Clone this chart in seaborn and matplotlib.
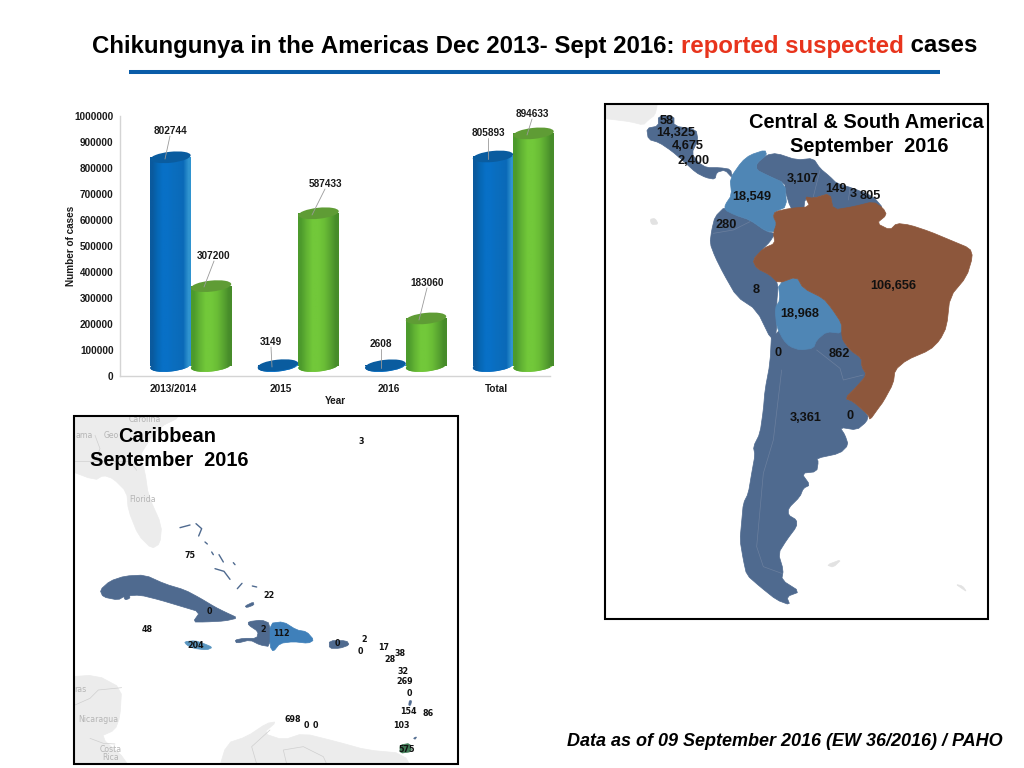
import numpy as np
import pandas as pd
import matplotlib
matplotlib.use("Agg")
import matplotlib.pyplot as plt
import seaborn as sns
from matplotlib.colors import to_rgb
from matplotlib.patches import Ellipse, Rectangle
from matplotlib.transforms import Affine2D

# Data

years = ["2013/2014", "2015", "2016", "Total"]
confirmed = [802744, 3149, 2608, 805893]
suspected = [307200, 587433, 183060, 894633]
y_ticks = [0, 100000, 200000, 300000, 400000, 500000, 600000, 700000, 800000, 900000, 1000000]

sa_names = ["58", "14,325", "4,675", "2,400", "3,107", "149", "3", "805", "18,549",
            "280", "8", "106,656", "18,968", "0", "862", "3,361", "0"]
sa_label_xy = [(667, 121), (676, 133), (688, 146), (694, 161), (803, 179), (836, 189),
               (853, 194), (870, 196), (752, 197), (726, 225), (756, 290), (893, 286),
               (800, 314), (778, 353), (839, 354), (806, 418), (850, 416)]

car_names = ["3", "75", "22", "0", "48", "2", "112", "204", "0", "2", "0", "17", "38", "28",
             "32", "269", "0", "154", "86", "698", "0", "0", "103", "575"]
car_label_xy = [(361, 442), (190, 555), (269, 595), (209, 612), (147, 629), (263, 630),
                (281, 633), (196, 645), (337, 644), (364, 640), (360, 651), (384, 647),
                (400, 653), (390, 659), (403, 671), (405, 682), (409, 693), (408, 712),
                (428, 713), (293, 720), (306, 725), (315, 725), (401, 726), (407, 749)]

# pixel place of each value label, and where its leader line ends on the bar
bar_label_xy = [(170, 131), (271, 342), (381, 344), (488, 133),
                (214, 256), (325, 184), (427, 283), (532, 114)]
bar_tip_xy = [(165, 159), (272, 367), (381, 368), (488, 159),
              (204, 287), (312, 215), (419, 320), (527, 135)]

BLUE = "#0a6cbc"
GREEN = "#6cc038"
DARK = "#4f6a8f"
LIGHT = "#4f86b5"
BRAZIL = "#8d573c"
GRAY = "#ececec"

# Map outlines, traced in 3x crops of the page


def crop(pts, x0, y0):
    return [(x0 + a / 3, y0 + b / 3) for a, b in pts]


mexico = crop([(-30, -30), (172, -30), (172, 15), (165, 45), (145, 60), (130, 75), (90, 65), (50, 60), (-30, 50)], 600, 100)
central = crop([(140, 85), (175, 78), (175, 48), (222, 48), (222, 78), (288, 88), (294, 120), (275, 160),
                (295, 188), (320, 203), (360, 203), (392, 208), (397, 234), (375, 210), (350, 217),
                (345, 238), (318, 233), (288, 218), (250, 183), (215, 153), (178, 128), (145, 118)], 600, 100)
venezuela = crop([(470, 190), (500, 165), (530, 160), (590, 180), (640, 175), (660, 205), (690, 230),
                  (710, 250), (760, 265), (820, 290), (850, 325), (820, 320), (700, 335), (690, 280),
                  (640, 295), (615, 295), (610, 340), (590, 345), (570, 320), (555, 270), (555, 250),
                  (500, 225), (470, 210)], 600, 100)
colombia = crop([(390, 235), (425, 185), (450, 165), (495, 150), (500, 165), (470, 190), (470, 210),
                 (500, 225), (555, 250), (560, 320), (525, 335), (520, 350), (530, 370), (525, 395),
                 (500, 395), (450, 360), (405, 345), (375, 330), (375, 315), (395, 285)], 600, 100)
peru = crop([(375, 320), (405, 345), (450, 360), (500, 395), (525, 400), (510, 425), (490, 445),
             (458, 480), (470, 505), (510, 525), (535, 550), (530, 610), (530, 700), (515, 722),
             (470, 630), (410, 590), (370, 520), (345, 470), (330, 430), (335, 390), (345, 350)], 600, 100)
cone = crop([(515, -25), (650, -60), (728, -30), (728, 0), (750, 30), (785, 55), (785, 80), (800, 105),
             (770, 140), (735, 175), (760, 185), (805, 225), (800, 245), (770, 270), (720, 262),
             (735, 285), (745, 315), (720, 340), (650, 355), (655, 365), (650, 395), (605, 400),
             (630, 435), (610, 445), (600, 470), (565, 505), (565, 525), (590, 540), (590, 560),
             (560, 600), (535, 640), (550, 690), (545, 720), (600, 755), (560, 770), (570, 795),
             (530, 780), (480, 740), (440, 705), (430, 660), (420, 600), (425, 545), (430, 490),
             (445, 460), (455, 400), (465, 345), (460, 320), (480, 280), (490, 210), (495, 150),
             (510, 70)], 600, 340)
bolivia = crop([(535, 550), (590, 530), (610, 565), (670, 595), (695, 625), (725, 670), (725, 700),
                (680, 695), (650, 720), (640, 745), (600, 750), (570, 740), (550, 720), (530, 680),
                (525, 625), (540, 600)], 600, 100)
brazil = crop([(690, 280), (640, 295), (615, 290), (630, 320), (570, 325), (525, 335), (520, 350),
               (530, 370), (520, 400), (525, 430), (490, 445), (458, 480), (470, 505), (510, 525),
               (535, 550), (590, 530), (610, 565), (670, 595), (695, 625), (725, 670), (725, 700),
               (728, 720), (750, 750), (785, 775), (785, 800), (800, 825), (770, 860), (735, 895),
               (760, 905), (805, 945), (810, 960), (835, 925), (850, 905), (880, 850), (885, 810),
               (920, 780), (990, 750), (1020, 720), (1040, 680), (1050, 590), (1100, 530),
               (1118, 470), (1110, 445), (1050, 420), (990, 395), (930, 375), (890, 370), (870, 390),
               (830, 370), (860, 345), (850, 325), (820, 305), (760, 320), (700, 330)], 600, 100)

sa_gray = [crop([(150, 358), (165, 355), (175, 372), (155, 374)], 600, 100),
           crop([(680, 675), (725, 658), (700, 682)], 600, 340),
           crop([(1068, 733), (1088, 738), (1100, 755), (1085, 745)], 600, 340)]
sa_borders = [crop([(545, 90), (520, 300), (490, 400), (470, 620), (490, 680), (545, 700)], 600, 340),
              crop([(650, 30), (720, 85), (730, 120), (790, 105)], 600, 340),
              crop([(340, 400), (400, 390), (450, 365)], 600, 100),
              crop([(660, 210), (640, 290)], 600, 100),
              crop([(750, 265), (745, 300)], 600, 100)]

florida = crop([(-30, -30), (330, -30), (330, 15), (270, 45), (235, 90), (210, 130), (225, 180), (235, 250),
                (275, 340), (270, 395), (245, 410), (205, 370), (175, 295), (170, 240), (130, 200),
                (100, 190), (75, 205), (-30, 165)], 70, 412)
nicaragua = crop([(-30, 262), (80, 255), (155, 295), (150, 380), (135, 420), (90, 440), (170, 510),
                  (175, 560), (-30, 560)], 70, 590)
venezuela_car = crop([(440, 560), (470, 460), (530, 440), (590, 400), (620, 395), (580, 430), (640, 450),
                      (700, 430), (800, 455), (890, 480), (1000, 490), (1040, 560)], 70, 590)
cuba = [(100, 590), (110, 581), (125, 576), (145, 575), (165, 584), (185, 590), (200, 598), (215, 607),
        (225, 612), (238, 618), (225, 621), (205, 622), (193, 622), (200, 612), (180, 606), (160, 600),
        (140, 595), (125, 596), (118, 600), (103, 597)]
haiti = crop([(535, 95), (575, 90), (600, 100), (600, 170), (570, 165), (540, 150), (500, 160), (495, 150),
              (520, 145), (560, 145), (565, 125), (535, 105)], 70, 590)
dominican = crop([(600, 100), (640, 95), (680, 120), (710, 125), (732, 150), (715, 160), (670, 155),
                  (630, 160), (610, 185), (600, 170)], 70, 590)
jamaica = crop([(343, 155), (375, 152), (400, 160), (428, 172), (410, 180), (370, 175), (350, 165)], 70, 590)
puerto_rico = crop([(778, 152), (830, 152), (838, 165), (810, 175), (778, 175)], 70, 590)
trinidad = crop([(990, 465), (1020, 460), (1025, 485), (990, 490)], 70, 590)
small_isles = [crop([(525, 48), (550, 36), (552, 45), (530, 53)], 70, 590),
               crop([(160, 15), (178, 12), (180, 25), (165, 30)], 70, 590),
               crop([(1030, 445), (1040, 440), (1036, 448)], 70, 590),
               crop([(1018, 332), (1025, 332), (1022, 346), (1016, 346)], 70, 590)]
bahamas = [crop(p, 70, 412) for p in [
    [(330, 347), (360, 339)], [(378, 335), (395, 350), (386, 372)], [(405, 390), (412, 396)],
    [(425, 420), (430, 428)], [(447, 428), (460, 450)], [(435, 470), (462, 478), (480, 502)],
    [(490, 452), (495, 458)], [(502, 530), (516, 514)], [(547, 522), (560, 525)]]]
car_borders = [crop([(15, 345), (60, 325), (85, 300), (155, 293)], 70, 590),
               crop([(60, 445), (100, 460), (135, 462)], 70, 590),
               crop([(560, 522), (545, 470), (600, 420)], 70, 590),
               crop([(650, 522), (640, 480), (700, 470), (760, 500), (770, 522)], 70, 590),
               crop([(75, 145), (90, 110), (75, 70)], 70, 412),
               crop([(15, 148), (180, 148), (200, 175)], 70, 412)]

# Figure

sns.set_theme(style="white")
plt.rcParams["font.family"] = ["Liberation Sans", "DejaVu Sans"]
plt.rcParams["text.color"] = "black"

fig = plt.figure(figsize=(10.24, 7.68), dpi=100, facecolor="white")
ov = fig.add_axes([0, 0, 1, 1], zorder=3)
ov.set_xlim(0, 1024)
ov.set_ylim(768, 0)
ov.axis("off")

ax = fig.add_axes([120 / 1024, 1 - 376 / 768, 430 / 1024, 260 / 768], zorder=2)

df = pd.DataFrame({
    "Year": years * 2,
    "Cases": confirmed + suspected,
    "Type": ["Confirmed"] * 4 + ["Suspected"] * 4,
})

sns.barplot(data=df, x="Year", y="Cases", hue="Type", palette=[BLUE, GREEN],
            width=0.755, gap=0, legend=False, saturation=1, ax=ax)

ax.set_xlim(-0.5, 3.5)
ax.set_ylim(0, 1000000)
ax.set_yticks(y_ticks)
ax.set_yticklabels([str(t) for t in y_ticks])
ax.tick_params(axis="both", length=0, labelsize=7.2, labelcolor="#1a1a1a")
ax.tick_params(axis="x", pad=5.5)
ax.tick_params(axis="y", pad=4.5)
for lab in ax.get_xticklabels() + ax.get_yticklabels():
    lab.set_fontweight("bold")
ax.set_xlabel("")
ax.set_ylabel("")
ax.patch.set_alpha(0)
sns.despine(ax=ax)
for side in ["left", "bottom"]:
    ax.spines[side].set_color("#d4d4d4")
    ax.spines[side].set_linewidth(1)

# the cylinders sit back from the axis: 17 px right and 10 px up

depth = ax.transData + Affine2D().translate(17, 10)

shades = {
    BLUE: ["#0a5a9e", "#0668b6", "#0870c6", "#0870c6", "#0a6ebf", "#0a6cbc", "#0a69b8", "#2f93cf"],
    GREEN: ["#4c9a2c", "#62b434", "#72c83a", "#72c83a", "#6abd36", "#5aa631", "#478c2a"],
}
caps = {BLUE: "#0a5c9f", GREEN: "#5f9c35"}

for container, color in zip(ax.containers, [BLUE, GREEN]):
    grad = np.array([[to_rgb(c) for c in shades[color]]])
    for bar in container:
        bar.set_transform(depth)
        bar.set_clip_on(False)
        x0, x1 = bar.get_x(), bar.get_x() + bar.get_width()
        h = bar.get_height()
        left, base = depth.transform((x0, 0))
        right, top = depth.transform((x1, h))
        w_px = right - left
        cx = (left + right) / 2
        bottom_cap = Ellipse((cx, 768 - base), w_px, 11, angle=-6, transform=ov.transData,
                             facecolor=color, edgecolor="none", zorder=bar.get_zorder())
        ax.add_patch(bottom_cap)
        bottom_cap.set_clip_on(False)
        for clip in [bar, bottom_cap]:
            im = ax.imshow(grad, extent=[x0, x1, -60000, max(h, 1)], aspect="auto", transform=depth,
                           interpolation="bilinear", zorder=bar.get_zorder() + 0.1)
            im.set_clip_path(clip)
        top_cap = Ellipse((cx, 768 - top), w_px, 11, angle=-6, transform=ov.transData,
                          facecolor=caps[color], edgecolor="none", zorder=bar.get_zorder() + 0.2)
        ax.add_patch(top_cap)
        top_cap.set_clip_on(False)

ax.set_xlim(-0.5, 3.5)
ax.set_ylim(0, 1000000)

fig.text(71 / 1024, 1 - 246 / 768, "Number of cases", rotation=90, fontsize=7.2, fontweight="bold",
         ha="center", va="center", color="#1a1a1a")
fig.text(335 / 1024, 1 - 401 / 768, "Year", fontsize=7.2, fontweight="bold",
         ha="center", va="center", color="#1a1a1a")

values = confirmed + suspected
for v, (lx, ly), (tx, ty) in zip(values, bar_label_xy, bar_tip_xy):
    ov.plot([lx, tx], [ly + 5, ty], color="#9a9a9a", lw=0.6)
    ov.text(lx, ly, str(v), fontsize=7.2, fontweight="bold", ha="center", va="center", color="#1a1a1a")

# Title

title_y = 46
parts = [("Chikungunya in the Americas Dec 2013- Sept 2016: ", "black"),
         ("reported suspected", "#e8341c"), (" cases", "black")]
cur = 92
renderer = fig.canvas.get_renderer()
for txt, col in parts:
    t = ov.text(cur, title_y, txt.replace(" ", "\u00a0"), fontsize=17.3, fontweight="bold", color=col,
                ha="left", va="center")
    cur += t.get_window_extent(renderer).width

ov.plot([129, 940], [72, 72], color="#0a5ca8", lw=2.9, solid_capstyle="butt")

# South America panel

sa_frame = Rectangle((605, 104), 383, 515, facecolor="none", edgecolor="black", lw=1.5, zorder=6)
ov.add_patch(sa_frame)


def smooth(points):
    # one pass of corner cutting, takes the hard angles out of the hand traced coast
    pts = np.array(points)
    nxt = np.roll(pts, -1, axis=0)
    return np.column_stack([0.8 * pts + 0.2 * nxt, 0.2 * pts + 0.8 * nxt]).reshape(-1, 2)


def land(points, color, frame, zorder=2):
    pts = smooth(points)
    for poly in ov.fill(pts[:, 0], pts[:, 1], facecolor=color, edgecolor=color, lw=0.5, zorder=zorder):
        poly.set_clip_path(frame)


land(mexico, GRAY, sa_frame)
for shape in sa_gray:
    land(shape, "#e2e2e2", sa_frame)
land(central, DARK, sa_frame)
land(peru, DARK, sa_frame)
land(cone, DARK, sa_frame)
land(venezuela, DARK, sa_frame)
land(colombia, LIGHT, sa_frame)
land(bolivia, LIGHT, sa_frame)
land(brazil, BRAZIL, sa_frame)
for piece in sa_borders:
    xs, ys = zip(*piece)
    ov.plot(xs, ys, color="#6b7f9e", lw=0.5, zorder=3)

for name, (x, y) in zip(sa_names, sa_label_xy):
    ov.text(x, y, name, fontsize=9.2, fontweight="bold", ha="center", va="center", color="#111111", zorder=5)

ov.text(866, 123, "Central & South America", fontsize=14.4, fontweight="bold", ha="center", va="center", zorder=5)
ov.text(869, 147, "September\u00a0 2016", fontsize=14.4, fontweight="bold", ha="center", va="center", zorder=5)

# Caribbean panel

car_frame = Rectangle((74, 416), 384, 348, facecolor="none", edgecolor="black", lw=1.5, zorder=6)
ov.add_patch(car_frame)

land(florida, GRAY, car_frame)
land(nicaragua, GRAY, car_frame)
land(venezuela_car, GRAY, car_frame)
land(cuba, DARK, car_frame)
land(haiti, DARK, car_frame)
land(dominican, "#3f80ba", car_frame)
land(jamaica, "#5a96c0", car_frame)
land(puerto_rico, DARK, car_frame)
land(trinidad, "#3f7a55", car_frame)
for shape in small_isles:
    land(shape, DARK, car_frame)
for piece in bahamas:
    xs, ys = zip(*piece)
    ov.plot(xs, ys, color=DARK, lw=1, zorder=2)
for piece in car_borders:
    xs, ys = zip(*piece)
    ov.plot(xs, ys, color="#cfcfcf", lw=0.5, zorder=2)

place_names = [("Florida", 143, 499, 5.6), ("Nicaragua", 98, 719, 5.6), ("Costa", 111, 749, 5.6),
               ("Rica", 111, 757, 5.6), ("Carolina", 145, 419, 5.6), ("Geo", 111, 435, 5.6),
               ("ama", 84, 435, 5.6), ("ras", 80, 690, 5.6)]
for name, x, y, size in place_names:
    ov.text(x, y, name, fontsize=size, color="#b5b5b5", ha="center", va="center", zorder=3,
            family=["DejaVu Sans"])

for name, (x, y) in zip(car_names, car_label_xy):
    ov.text(x, y, name, fontsize=5.8, fontweight="bold", ha="center", va="center", color="#111111", zorder=5,
            family=["DejaVu Sans"])

ov.text(167, 436, "Caribbean", fontsize=14.4, fontweight="bold", ha="center", va="center", zorder=5)
ov.text(169, 460, "September\u00a0 2016", fontsize=14.4, fontweight="bold", ha="center", va="center", zorder=5)

ov.text(785, 742, "Data as of 09 September 2016 (EW 36/2016) / PAHO", fontsize=13, fontweight="bold",
        fontstyle="italic", ha="center", va="center")

fig.savefig("out.png", dpi=100)
